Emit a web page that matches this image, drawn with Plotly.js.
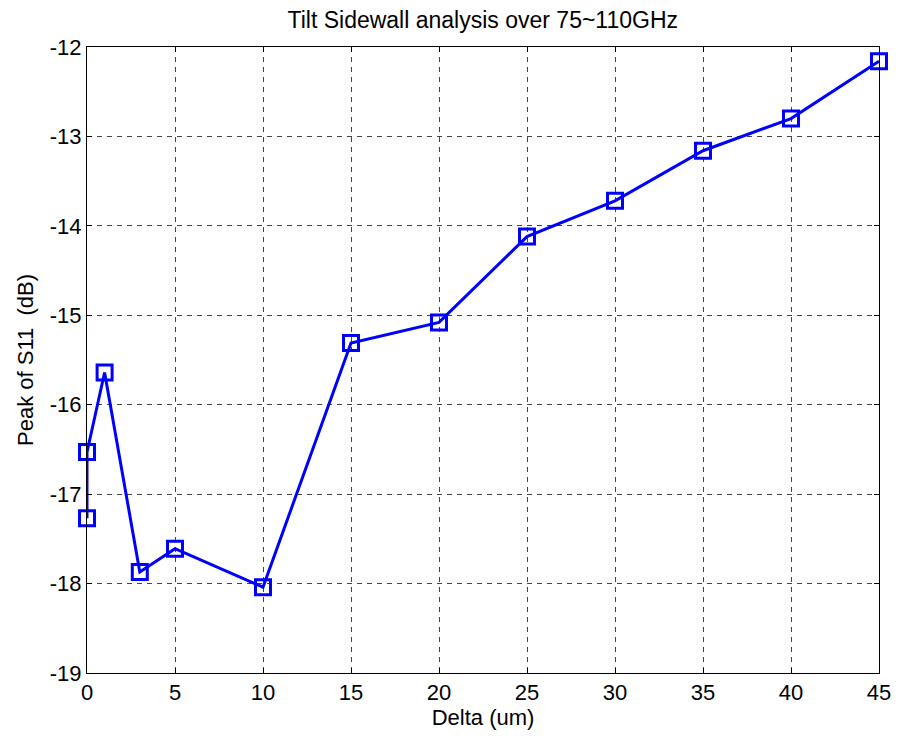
<!DOCTYPE html>
<html>
<head>
<meta charset="utf-8">
<script src="https://cdn.plot.ly/plotly-3.0.1.min.js"></script>
<style>html,body{margin:0;padding:0;background:#fff;}#chart{width:899px;height:738px;}</style>
</head>
<body>
<div id="chart"></div>
<script>
const deltaUm = [0, 0, 1, 3, 5, 10, 15, 20, 25, 30, 35, 40, 45];
const peakS11 = [-17.27, -16.53, -15.64, -17.87, -17.61, -18.04, -15.31, -15.08, -14.12, -13.72, -13.16, -12.80, -12.16];
const xTicks = [0, 5, 10, 15, 20, 25, 30, 35, 40, 45];
const yTicks = [-19, -18, -17, -16, -15, -14, -13, -12];

const font = "Liberation Sans, Arial, sans-serif";
const trace = {
  x: deltaUm, y: peakS11, type: 'scatter', mode: 'lines+markers',
  cliponaxis: false,
  line: {color: '#0000ff', width: 3},
  marker: {symbol: 'square-open', size: 15, color: '#0000ff', line: {width: 3, color: '#0000ff'}},
  showlegend: false
};
const axisCommon = {
  showline: true, mirror: 'ticks', linecolor: '#000', linewidth: 1,
  ticks: 'inside', ticklen: 5, tickcolor: '#000',
  showgrid: true, gridcolor: '#444', griddash: '5px,5px', gridwidth: 1,
  zeroline: false, tickfont: {family: font, size: 22, color: '#000'}
};
const layout = {
  width: 899, height: 738,
  margin: {l: 87, r: 20, t: 47, b: 65},
  paper_bgcolor: '#fff', plot_bgcolor: '#fff',
  title: {text: 'Tilt Sidewall analysis over 75~110GHz', font: {family: font, size: 23, color: '#000'}, x: 0.537, xref: 'container', xanchor: 'center', y: 1 - 20/738, yref: 'container', yanchor: 'middle'},
  xaxis: Object.assign({}, axisCommon, {range: [0, 45], tickvals: xTicks, ticktext: xTicks.map(String), ticklabelstandoff: 0,
    title: {text: 'Delta (um)', font: {family: font, size: 22, color: '#000'}, standoff: 2}}),
  yaxis: Object.assign({}, axisCommon, {range: [-19, -12], tickvals: yTicks, ticktext: yTicks.map(v => String(v)), ticklabelstandoff: 0,
    title: {text: 'Peak of S11&nbsp;&nbsp;(dB)', font: {family: font, size: 22, color: '#000'}, standoff: 10}})
};
Plotly.newPlot('chart', [trace], layout, {staticPlot: true, displayModeBar: false});
</script>
</body>
</html>
